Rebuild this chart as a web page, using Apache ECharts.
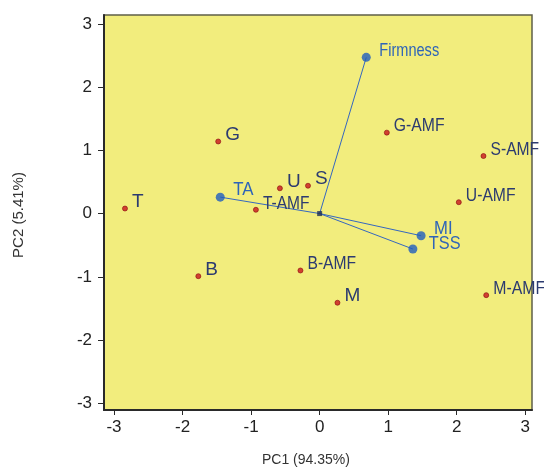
<!DOCTYPE html>
<html><head><meta charset="utf-8">
<script src="https://cdn.jsdelivr.net/npm/echarts@6/dist/echarts.min.js"></script>
<style>html,body{margin:0;padding:0;background:#fff}#c{width:544px;height:469px}</style>
</head><body><div id="c"></div>
<script>
// Observations (scores)
const obsNames = ['T','G','U','S','T-AMF','B','B-AMF','M','G-AMF','S-AMF','U-AMF','M-AMF'];
const obsX = [-2.84,-1.48,-0.58,-0.17,-0.93,-1.77,-0.28,0.26,0.98,2.39,2.03,2.43];
const obsY = [0.08,1.14,0.40,0.44,0.06,-0.99,-0.90,-1.41,1.28,0.91,0.18,-1.29];
// Variables (loadings)
const varNames = ['Firmness','TA','MI','TSS'];
const varX = [0.68,-1.45,1.48,1.36];
const varY = [2.47,0.26,-0.35,-0.56];
const tickVals = [-3,-2,-1,0,1,2,3];

const chart = echarts.init(document.getElementById('c'));
const baseFont = '"Liberation Sans",Arial,sans-serif';
const series = [];
varNames.forEach((n,i)=>{
  series.push({type:'line',data:[[0,0],[varX[i],varY[i]]],symbol:'none',silent:true,
    lineStyle:{color:'#3567c0',width:1},z:2,clip:false});
});
series.push({type:'scatter',name:'vars',symbolSize:9,clip:false,z:4,
  itemStyle:{color:'#1f5cbf'},
  data:varNames.map((n,i)=>({name:n,value:[varX[i],varY[i]]}))
});
series.push({type:'scatter',name:'origin',symbol:'rect',symbolSize:5,z:5,
  itemStyle:{color:'#1c2c55'},data:[[0,0]]});
series.push({type:'scatter',name:'obs',symbolSize:5,clip:false,z:4,
  itemStyle:{color:'#c8141c',borderColor:'#8a0c10',borderWidth:0.8},
  data:obsNames.map((n,i)=>({name:n,value:[obsX[i],obsY[i]]}))
});

chart.setOption({
  animation:false,
  grid:{left:104,right:12,top:15,bottom:59,show:true,backgroundColor:'#f2ed7d',borderColor:'#5f5f48',borderWidth:1.5},
  xAxis:{type:'value',min:-3.146,max:3.098,
    axisLine:{show:true,onZero:false,lineStyle:{color:'#2a2a2a',width:2}},
    axisTick:{show:true,length:5,customValues:tickVals,lineStyle:{color:'#2a2a2a'}},
    axisLabel:{customValues:tickVals,margin:9,fontSize:17,color:'#222',fontFamily:baseFont},
    splitLine:{show:false}},
  yAxis:{type:'value',min:-3.106,max:3.14,
    axisLine:{show:true,onZero:false,lineStyle:{color:'#2a2a2a',width:2}},
    axisTick:{show:true,length:6,customValues:tickVals,lineStyle:{color:'#2a2a2a'}},
    axisLabel:{customValues:tickVals,margin:12,fontSize:17,color:'#222',fontFamily:baseFont},
    splitLine:{show:false}},
  series:series
});

// Tightly tracked point labels (the original uses negative letter spacing),
// placed through the chart's own coordinate conversion.
const mctx = document.createElement('canvas').getContext('2d');
function tightScale(text, size){
  mctx.font = size + 'px ' + baseFont;
  const w = mctx.measureText(text).width;
  if (text.length < 2) return 1;
  return Math.max(0.6, (w - 2.6*(text.length-1)) / w);
}
const graphics = [
  {type:'text',left:262,top:453,style:{text:'PC1 (94.35%)',fontSize:14,fill:'#333',fontFamily:baseFont}},
  {type:'text',x:19,y:215,rotation:Math.PI/2,style:{text:'PC2 (5.41%)',fontSize:15,fill:'#333',align:'center',verticalAlign:'middle',fontFamily:baseFont}}
];
obsNames.forEach((n,i)=>{
  const p = chart.convertToPixel({gridIndex:0},[obsX[i],obsY[i]]);
  graphics.push({type:'text',x:p[0]+7,y:p[1]-6.5,scaleX:tightScale(n,19),z:10,
    style:{text:n,fontSize:19,fill:'#2c3b70',fontFamily:baseFont,align:'left',verticalAlign:'middle'}});
});
const varDx=[13,13,13,16], varDy=[-6.5,-7,-7,-5];
varNames.forEach((n,i)=>{
  const p = chart.convertToPixel({gridIndex:0},[varX[i],varY[i]]);
  graphics.push({type:'text',x:p[0]+varDx[i],y:p[1]+varDy[i],scaleX:tightScale(n,19),z:10,
    style:{text:n,fontSize:19,fill:'#2e64b8',fontFamily:baseFont,align:'left',verticalAlign:'middle'}});
});
chart.setOption({graphic:graphics});
</script></body></html>
